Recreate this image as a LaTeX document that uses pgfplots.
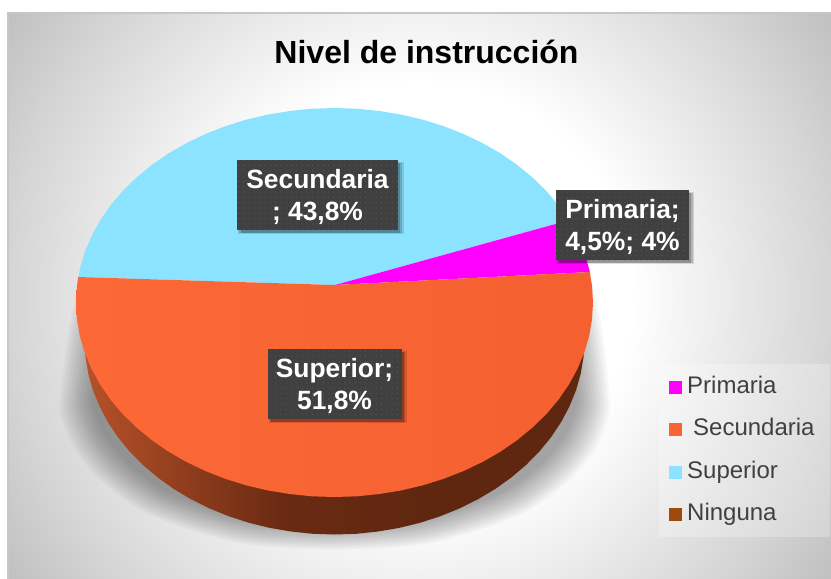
\documentclass[border=0pt]{standalone}
\usepackage{fontspec}
\setmainfont{Liberation Sans}
\usepackage{pgfplots}
\usepackage{pgfplotstable}
\pgfplotsset{compat=1.18}
\usetikzlibrary{patterns.meta,shadows}
\definecolor{cMag}{HTML}{FF00FF}
\definecolor{cOra}{HTML}{FA6435}
\definecolor{cBlu}{HTML}{8BE3FF}
\definecolor{cBro}{HTML}{A0490C}
\definecolor{cTxt}{HTML}{404040}
\definecolor{cBox}{HTML}{404040}
\definecolor{cDot}{HTML}{585858}
\definecolor{sA}{HTML}{BA532A}
\definecolor{sB}{HTML}{6A2A12}
\definecolor{sC}{HTML}{5F2710}
\definecolor{oL}{HTML}{FD6837}
\definecolor{oR}{HTML}{F56030}
\definecolor{g1}{HTML}{F0F0F0}
\definecolor{g2}{HTML}{D5D5D5}
\definecolor{g3}{HTML}{BEBEBE}
\pgfdeclareradialshading{panelbg}{\pgfpointorigin}{%
  color(0bp)=(white); color(10.5bp)=(white); color(14bp)=(g1);
  color(20.25bp)=(g2); color(25bp)=(g3); color(50bp)=(g3)}
\pgfdeclarehorizontalshading{sidegradb}{100bp}{%
  color(0bp)=(sA); color(25bp)=(sA); color(45bp)=(sB); color(60bp)=(sC); color(75bp)=(sC); color(100bp)=(sC)}
\newcommand\labstr{\rule{0pt}{23pt}}
\pgfplotstableread{
x y
335 285
78.2 277
79.9 268.7
84.8 252.2
91.6 236.0
100.2 220.3
110.6 205.25
122.7 190.9
136.5 177.5
151.7 165.0
168.3 153.5
186.2 143.2
205.25 134.1
225.3 126.2
246.1 119.7
267.6 114.6
289.6 111.0
312.0 108.7
334.5 108.0
357.0 108.7
379.4 111.0
401.4 114.6
422.9 119.7
443.7 126.2
463.75 134.1
482.8 143.2
500.7 153.5
517.3 165.0
532.5 177.5
546.3 190.9
558.4 205.25
568.8 220.3
}\tblSecundaria
\pgfplotstableread{
x y
335 285
568.8 220.3
577.4 236.0
584.2 252.2
589.1 268.7
589.8 272
}\tblPrimaria
\pgfplotstableread{
x y
335 285
589.8 272
592.0 285.5
593.0 302.5
592.0 319.5
589.1 336.3
584.2 352.8
577.4 369.0
568.8 384.7
558.4 399.75
546.3 414.1
532.5 427.5
517.3 440.0
500.7 451.5
482.8 461.8
463.75 470.9
443.7 478.8
422.9 485.3
401.4 490.4
379.4 494.0
357.0 496.3
334.5 497.0
312.0 496.3
289.6 494.0
267.6 490.4
246.1 485.3
225.3 478.8
205.25 470.9
186.2 461.8
168.3 451.5
151.7 440.0
136.5 427.5
122.7 414.1
110.6 399.75
100.2 384.7
91.6 369.0
84.8 352.8
79.9 336.3
77.0 319.5
76.0 302.5
77.0 285.5
78.2 277
}\tblSuperior
\pgfplotstableread{
x y
76 302.5
84.5 340
85.5 357
88.3 373.8
93 390.3
99.6 406.5
107.9 422.2
118 437.25
129.7 451.6
143 465
157.7 477.5
173.8 489
191.1 499.3
209.5 508.4
228.9 516.3
249 522.8
269.8 527.9
291.1 531.5
312.7 533.8
334.5 534.5
356.3 533.8
377.9 531.5
399.2 527.9
420 522.8
440.1 516.3
459.5 508.4
477.9 499.3
495.2 489
511.3 477.5
526 465
539.3 451.6
551 437.25
561.1 422.2
569.4 406.5
576 390.3
580.7 373.8
583.5 357
584.5 340
593 302.5
}\tblSide
\pgfplotstableread{
x y
78 285
68 333
60 400
62 420
75 450
100 480
140 510
190 530
250 545
335 550
420 545
480 530
530 510
570 480
595 450
608 420
610 400
603 333
593 285
}\tblShadow
\begin{document}
\begin{tikzpicture}
\begin{axis}[
  scale only axis, width=831pt, height=579pt,
  xmin=0, xmax=831, ymin=0, ymax=579, y dir=reverse,
  hide axis,
  legend style={at={(0.793,0.3713)}, anchor=north west, draw=none,
    fill=white, fill opacity=0.25, text opacity=1,
    inner xsep=10pt, inner ysep=12pt, row sep=20.4pt,
    nodes={text=cTxt, font=\fontsize{24}{26}\selectfont, text height=17pt, text depth=5pt, inner xsep=5pt, inner ysep=0pt}},
  legend cell align=left,
  legend image code/.code={\fill[#1, draw=none, fill opacity=1] (0pt,-6.5pt) rectangle (13pt,6.5pt);},
]
% page and panel
\addplot[forget plot, draw=none, fill=white] coordinates {(0,0) (831,0) (831,579) (0,579)};
\addplot[forget plot, draw=none, shade, shading=panelbg] coordinates {(-88,-211) (926,-211) (926,803) (-88,803)};
\addplot[forget plot, draw=none, fill=white] coordinates {(0,0) (8,0) (8,579) (0,579)};
\addplot[forget plot, draw=none, fill=white] coordinates {(0,0) (831,0) (831,13) (0,13)};
\addplot[forget plot, draw=black!22, line width=1.2pt] coordinates {(8,579) (8,13) (831,13)};
% shadow
\pgfplotsinvokeforeach{1.00,0.9925,0.985,0.9775,0.97,0.9625,0.955,0.9475,0.94,0.9325,0.925,0.9175,0.91,0.9025,0.895,0.8875,0.88}{
  \addplot[forget plot, smooth, draw=none, fill=black, fill opacity=0.024]
    table[x expr={335+(\thisrow{x}-335)*#1}, y expr={340+(\thisrow{y}-340)*#1}] {\tblShadow};
}
% pie
\addplot[forget plot, draw=none, shade, shading=sidegradb] table {\tblSide};
\addplot[forget plot, draw=none, fill=cBlu] table {\tblSecundaria};
\addplot[forget plot, draw=none, fill=cMag] table {\tblPrimaria};
\addplot[forget plot, draw=none, left color=oL, right color=oR] table {\tblSuperior};
% legend
\addlegendimage{cMag}\addlegendentry{Primaria}
\addlegendimage{cOra}\addlegendentry{\hspace{6pt}Secundaria}
\addlegendimage{cBlu}\addlegendentry{Superior}
\addlegendimage{cBro}\addlegendentry{Ninguna}
% title and labels
\node[anchor=base, font=\fontsize{32}{36}\bfseries\selectfont] at (axis cs:426.5,63.5) {Nivel de instrucción};
\tikzset{lab/.style={fill=cBox, text=white, align=center, inner sep=0pt,
  font=\fontsize{26.4}{31.5}\bfseries\selectfont,
  general shadow={shadow xshift=3pt, shadow yshift=-3pt, shadow scale=1.03, fill=black, opacity=0.12},
  general shadow={shadow xshift=3pt, shadow yshift=-3pt, shadow scale=1.01, fill=black, opacity=0.15},
  general shadow={shadow xshift=3pt, shadow yshift=-3pt, shadow scale=0.99, fill=black, opacity=0.2},
  postaction={pattern={Dots[distance=5.3pt,radius=0.6pt]}, pattern color=cDot}}}
\node[lab, minimum width=161pt, minimum height=70pt] at (axis cs:317.5,195) {\labstr Secundaria\\; 43,8\%};
\node[lab, minimum width=133pt, minimum height=70pt] at (axis cs:622.5,225) {\labstr Primaria;\\4,5\%; 4\%};
\node[lab, minimum width=134pt, minimum height=70pt] at (axis cs:334.5,384) {\labstr Superior;\\51,8\%};
\end{axis}
\end{tikzpicture}
\end{document}
